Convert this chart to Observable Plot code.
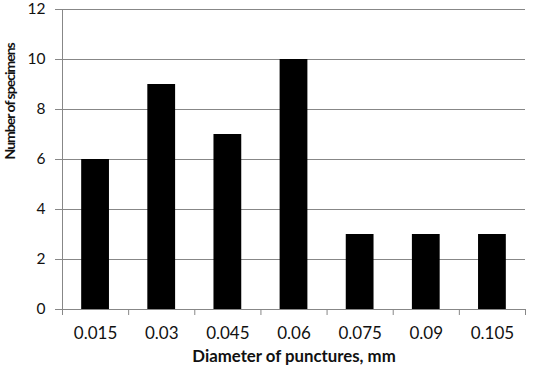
<!DOCTYPE html>
<html>
<head>
<meta charset="utf-8">
<script src="https://cdn.jsdelivr.net/npm/d3@7"></script>
<script src="https://cdn.jsdelivr.net/npm/@observablehq/plot@0.6"></script>
<style>
  html, body { margin: 0; padding: 0; background: #fff; }
</style>
</head>
<body>
<div id="chart"></div>
<script>
const categories = ["0.015", "0.03", "0.045", "0.06", "0.075", "0.09", "0.105"];
const counts = [6, 9, 7, 10, 3, 3, 3];
const yTicks = [0, 2, 4, 6, 8, 10, 12];
const xTitle = "Diameter of punctures, mm";
const yTitle = "Number of specimens";

const data = categories.map((c, i) => ({c, i, n: counts[i]}));
const boundaries = d3.range(categories.length + 1);
const centers = categories.map((c, i) => i + 0.5);

const axisColor = "#878787";
const textColor = "#111";

const chart = Plot.plot({
  width: 550,
  height: 372,
  marginLeft: 62,
  marginRight: 25,
  marginTop: 9,
  marginBottom: 63,
  style: {fontFamily: "Lato", background: "#fff"},
  x: {domain: [0, categories.length], axis: null},
  y: {domain: [0, 12], axis: null},
  marks: [
    Plot.gridY(yTicks, {stroke: axisColor, strokeOpacity: 1, strokeWidth: 1}),
    Plot.axisY(yTicks, {tickSize: 7, tickPadding: 10, stroke: axisColor, fill: textColor, fontSize: 15.5, label: null}),
    Plot.rectY(data, {x1: d => d.i + 0.29, x2: d => d.i + 0.71, y1: 0, y2: "n", fill: "black"}),
    Plot.ruleX([0], {stroke: axisColor}),
    Plot.ruleY([0], {stroke: axisColor}),
    Plot.axisX(boundaries, {tickSize: 6, tickFormat: () => "", stroke: axisColor, label: null}),
    Plot.axisX(centers, {tickSize: 0, tickPadding: 17, tickFormat: (d, i) => categories[i], fill: textColor, fontSize: 17, label: null}),
    Plot.text([xTitle], {frameAnchor: "bottom", dy: 52, text: d => d, fontWeight: "bold", fontSize: 16.8, fill: textColor}),
    Plot.text([yTitle], {frameAnchor: "left", dx: -52, rotate: -90, text: d => d, fontWeight: "bold", fontSize: 14, fill: textColor})
  ]
});
chart.querySelectorAll("text").forEach(t => {
  if (t.textContent === yTitle) t.setAttribute("letter-spacing", "-1");
});
document.getElementById("chart").appendChild(chart);
</script>
</body>
</html>
